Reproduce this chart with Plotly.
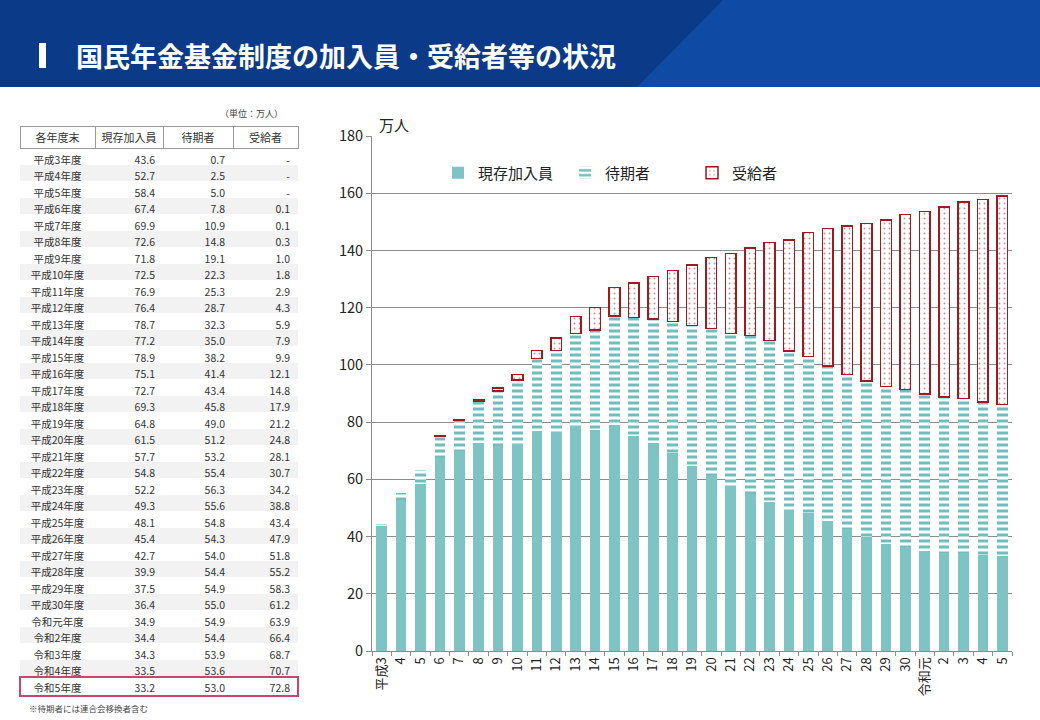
import plotly.graph_objects as go

W, H = 1040, 720

# 各年度末の値（単位：万人）
years = ["平成3年度", "平成4年度", "平成5年度", "平成6年度", "平成7年度", "平成8年度",
         "平成9年度", "平成10年度", "平成11年度", "平成12年度", "平成13年度", "平成14年度",
         "平成15年度", "平成16年度", "平成17年度", "平成18年度", "平成19年度", "平成20年度",
         "平成21年度", "平成22年度", "平成23年度", "平成24年度", "平成25年度", "平成26年度",
         "平成27年度", "平成28年度", "平成29年度", "平成30年度", "令和元年度", "令和2年度",
         "令和3年度", "令和4年度", "令和5年度"]
tick_labels = ["平成3", "4", "5", "6", "7", "8", "9", "10", "11", "12", "13", "14", "15",
               "16", "17", "18", "19", "20", "21", "22", "23", "24", "25", "26", "27",
               "28", "29", "30", "令和元", "2", "3", "4", "5"]
members = [43.6, 52.7, 58.4, 67.4, 69.9, 72.6, 71.8, 72.5, 76.9, 76.4, 78.7, 77.2, 78.9,
           75.1, 72.7, 69.3, 64.8, 61.5, 57.7, 54.8, 52.2, 49.3, 48.1, 45.4, 42.7, 39.9,
           37.5, 36.4, 34.9, 34.4, 34.3, 33.5, 33.2]
waiting = [0.7, 2.5, 5.0, 7.8, 10.9, 14.8, 19.1, 22.3, 25.3, 28.7, 32.3, 35.0, 38.2, 41.4,
           43.4, 45.8, 49.0, 51.2, 53.2, 55.4, 56.3, 55.6, 54.8, 54.3, 54.0, 54.4, 54.9,
           55.0, 54.9, 54.4, 53.9, 53.6, 53.0]
recipients = [None, None, None, 0.1, 0.1, 0.3, 1.0, 1.8, 2.9, 4.3, 5.9, 7.9, 9.9, 12.1,
              14.8, 17.9, 21.2, 24.8, 28.1, 30.7, 34.2, 38.8, 43.4, 47.9, 51.8, 55.2, 58.3,
              61.2, 63.9, 66.4, 68.7, 70.7, 72.8]

TEAL = "#7FC4C4"
RED = "#9E1B22"
JP = "Noto Sans CJK JP"


def px(x):
    return x / W


def py(y):
    return 1 - y / H


idx = list(range(len(years)))

fig = go.Figure()

# 左の表
fmt = lambda v: "-" if v is None else f"{v:.1f}"
row_fill = ["#FFFFFF" if i % 2 == 0 else "#F2F2F2" for i in idx]
fig.add_trace(go.Table(
    domain=dict(x=[px(20), px(298)], y=[py(697), py(126)]),
    columnwidth=[75, 68, 70, 65],
    header=dict(values=["各年度末", "現存加入員", "待期者", "受給者"],
                fill_color="white", line=dict(color="#9A9A9A", width=1),
                font=dict(family=JP, size=11, color="#333333"),
                align="center", height=22),
    cells=dict(values=[years, [fmt(v) for v in members], [fmt(v) for v in waiting],
                       [fmt(v) for v in recipients]],
               fill_color=[row_fill] * 4, line=dict(color="rgba(0,0,0,0)", width=0),
               font=dict(family=JP, size=10.5, color="#333333"),
               align=["center", "right", "right", "right"], height=16.5),
))

# 右の積み上げ棒グラフ
fig.add_trace(go.Bar(x=idx, y=members, name="現存加入員", width=0.55,
                     marker=dict(color=TEAL, line=dict(width=0))))
fig.add_trace(go.Bar(x=idx, y=waiting, name="待期者", width=0.55,
                     marker=dict(color="white", line=dict(width=0),
                                 pattern=dict(shape="-", fgcolor="#70BDBD", bgcolor="white",
                                              size=6, solidity=0.5, fgopacity=1))))
fig.add_trace(go.Bar(x=idx, y=recipients, name="受給者", width=0.55,
                     marker=dict(color="white", line=dict(color=RED, width=1.5),
                                 pattern=dict(shape=".", fgcolor=RED, bgcolor="white",
                                              size=5, solidity=0.12))))

fig.update_layout(
    width=W, height=H,
    margin=dict(l=0, r=0, t=0, b=0, pad=0, autoexpand=False),
    paper_bgcolor="white", plot_bgcolor="white",
    barmode="stack", bargap=0.45,
    font=dict(family=JP, color="#222222"),
    xaxis=dict(domain=[px(372), px(1012)], range=[-0.5, len(idx) - 0.5], automargin=False,
               tickmode="array", tickvals=idx, ticktext=tick_labels, tickangle=-90,
               ticks="", showgrid=False, showline=True, linecolor="#8C8C8C",
               tickfont=dict(family=JP, size=13, color="#222222"),
               minor=dict(ticks="outside", tick0=-0.5, dtick=1, ticklen=4,
                          tickcolor="#8C8C8C", showgrid=False)),
    yaxis=dict(domain=[py(651), py(136)], range=[0, 180], dtick=20, automargin=False,
               showgrid=True, gridcolor="#8C8C8C", gridwidth=1,
               showline=True, linecolor="#8C8C8C", ticks="outside", ticklen=5,
               tickcolor="#8C8C8C", zeroline=False,
               tickfont=dict(family=JP, size=14.5, color="#222222")),
    legend=dict(orientation="h", x=px(438), y=py(173), xanchor="left", yanchor="middle",
                font=dict(family=JP, size=15, color="#222222"), itemwidth=30,
                entrywidth=82, bgcolor="rgba(0,0,0,0)", traceorder="normal"),
    showlegend=True,
)

# ヘッダー帯
fig.add_shape(type="rect", xref="paper", yref="paper", x0=0, x1=1, y0=py(87), y1=1,
              fillcolor="#0B3A88", line=dict(width=0), layer="below")
fig.add_shape(type="path", xref="paper", yref="paper",
              path=f"M {px(723)} 1 L 1 1 L 1 {py(87)} L {px(637)} {py(87)} Z",
              fillcolor="#0F4AA5", line=dict(width=0), layer="below")
fig.add_shape(type="rect", xref="paper", yref="paper", x0=px(39), x1=px(46),
              y0=py(68), y1=py(43), fillcolor="white", line=dict(width=0))
# 令和5年度の強調枠
fig.add_shape(type="rect", xref="paper", yref="paper", x0=px(20), x1=px(298),
              y0=py(696), y1=py(677), line=dict(color="#C9466C", width=2))

fig.add_annotation(text="<b>国民年金基金制度の加入員・受給者等の状況</b>", xref="paper", yref="paper",
                   x=px(74), y=py(56), xanchor="left", yanchor="middle", showarrow=False,
                   font=dict(family=JP, size=27, color="white"))
fig.add_annotation(text="（単位：万人）", xref="paper", yref="paper", x=px(285), y=py(113),
                   xanchor="right", yanchor="middle", showarrow=False,
                   font=dict(family=JP, size=9, color="#444444"))
fig.add_annotation(text="※待期者には連合会移換者含む", xref="paper", yref="paper", x=px(27),
                   y=py(708), xanchor="left", yanchor="middle", showarrow=False,
                   font=dict(family=JP, size=8.5, color="#444444"))
fig.add_annotation(text="万人", xref="paper", yref="paper", x=px(377), y=py(124),
                   xanchor="left", yanchor="middle", showarrow=False,
                   font=dict(family=JP, size=15, color="#222222"))

# ページの余白を消して図を窓いっぱいに置く
fig.write_html("out.html", config={"displayModeBar": False},
               post_script="document.body.style.margin='0';")
